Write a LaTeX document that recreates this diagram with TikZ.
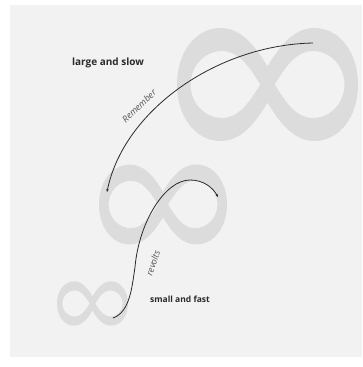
\documentclass[tikz,border=0pt]{standalone}
\usepackage{fontspec}
\setmainfont{Open Sans}
\usetikzlibrary{arrows.meta}
\definecolor{bg}{HTML}{F2F2F2}
\definecolor{inf}{HTML}{DCDCDC}
\definecolor{ink}{HTML}{2A2A2A}
\definecolor{lbl}{HTML}{555555}
\tikzset{
  x=1pt, y=-1pt,
  infinity/.pic={
    \fill[inf, even odd rule]
      (0,-0.2) .. controls (-0.15,-0.45) and (-0.3,-0.624) .. (-0.52,-0.624)
      .. controls (-0.8,-0.624) and (-1,-0.35) .. (-1,0)
      .. controls (-1,0.35) and (-0.8,0.624) .. (-0.52,0.624)
      .. controls (-0.3,0.624) and (-0.15,0.45) .. (0,0.2)
      .. controls (0.15,0.45) and (0.3,0.624) .. (0.52,0.624)
      .. controls (0.8,0.624) and (1,0.35) .. (1,0)
      .. controls (1,-0.35) and (0.8,-0.624) .. (0.52,-0.624)
      .. controls (0.3,-0.624) and (0.15,-0.45) .. (0,-0.2) -- cycle
      (-0.08,0) .. controls (-0.2,-0.2) and (-0.32,-0.37) .. (-0.5,-0.37)
      .. controls (-0.7,-0.37) and (-0.85,-0.2) .. (-0.85,0)
      .. controls (-0.85,0.2) and (-0.7,0.37) .. (-0.5,0.37)
      .. controls (-0.32,0.37) and (-0.2,0.2) .. (-0.08,0) -- cycle
      (0.08,0) .. controls (0.2,-0.2) and (0.32,-0.37) .. (0.5,-0.37)
      .. controls (0.7,-0.37) and (0.85,-0.2) .. (0.85,0)
      .. controls (0.85,0.2) and (0.7,0.37) .. (0.5,0.37)
      .. controls (0.32,0.37) and (0.2,0.2) .. (0.08,0) -- cycle;
  },
  title/.style={font=\bfseries\fontsize{10}{11}\selectfont, text=ink, inner sep=0pt},
  curvelbl/.style={font=\itshape\fontsize{9}{10}\selectfont, text=lbl, inner sep=0pt},
  link/.style={draw=ink, line width=0.8pt, -{Stealth[length=3pt,width=2.5pt]}}
}
\begin{document}
\begin{tikzpicture}
\useasboundingbox (0,0) rectangle (362,367);
\fill[white] (0,0) rectangle (362,367);
\fill[bg] (10,5) rectangle (362,357);
\pic[scale=90.5] (big) at (267.5,84.5) {infinity};
\pic[scale=64] (mid) at (163,204.5) {infinity};
\pic[scale=35.5] (small) at (92.5,303.5) {infinity};
\node[title] (ls) at (108,63) {large and slow};
\node[title, font=\bfseries\fontsize{8.5}{9.5}\selectfont] (sf) at (180,299) {small and fast};
\coordinate (r0) at (313,43);
\coordinate (r1) at (107,192);
\draw[link] (r0) .. controls (215,45) and (123,112) .. (r1);
\node[curvelbl, rotate=44] (rem) at (139,106) {Remember};
\coordinate (v0) at (113,318);
\coordinate (v1) at (135,267);
\coordinate (v2) at (190,180);
\coordinate (v3) at (218,197);
\draw[link] (v0) .. controls (130,312) and (132,287) .. (v1)
  .. controls (139,222) and (165,180) .. (v2)
  .. controls (204,180) and (213,188) .. (v3);
\node[curvelbl, rotate=72] (rev) at (153,263) {revolts};
\end{tikzpicture}
\end{document}
